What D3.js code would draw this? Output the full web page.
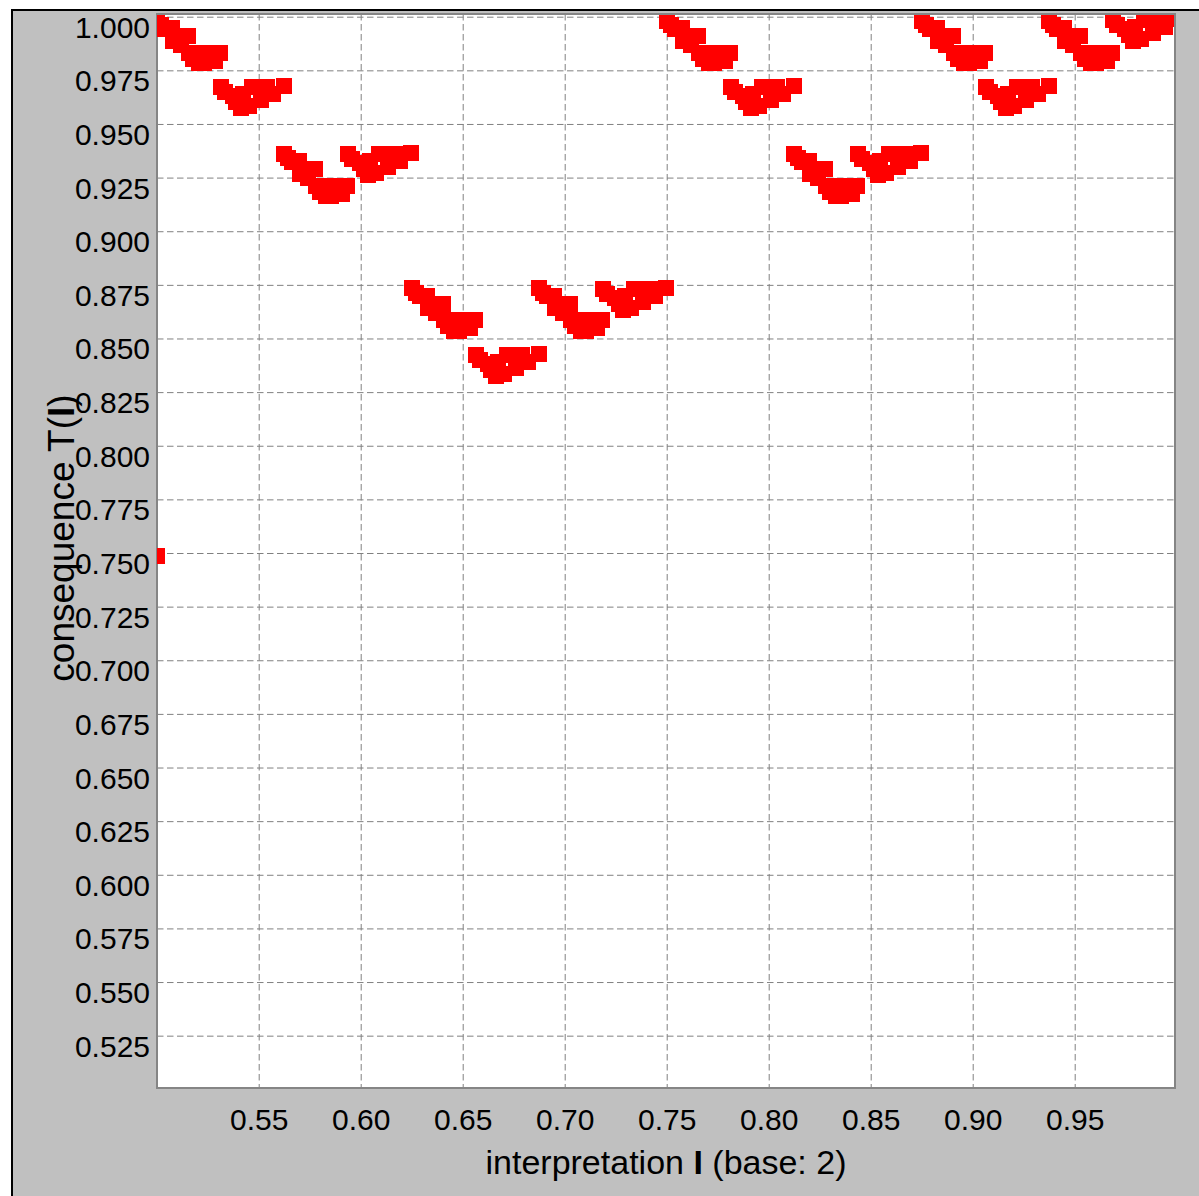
<!DOCTYPE html>
<html>
<head>
<meta charset="utf-8">
<script src="https://cdn.jsdelivr.net/npm/d3@7"></script>
<style>
  html, body { margin: 0; padding: 0; background: #ffffff; }
  svg { display: block; }
  text { font-family: "Liberation Sans", Arial, Helvetica, sans-serif; fill: #000; }
</style>
</head>
<body>
<div id="chart"></div>
<script>
// ---- tick values ----
const xTicks = [0.55, 0.60, 0.65, 0.70, 0.75, 0.80, 0.85, 0.90, 0.95];
const yTicks = [0.525, 0.550, 0.575, 0.600, 0.625, 0.650, 0.675, 0.700, 0.725, 0.750,
                0.775, 0.800, 0.825, 0.850, 0.875, 0.900, 0.925, 0.950, 0.975, 1.000];

// ---- data points [I, T(I)], grouped per cluster ----
const isolated = [[0.5000, 0.7488]];

const clusterD1 = [[.5000,.9980],[.5020,.9961],[.5039,.9943],[.5074,.9947],[.5078,.9887],[.5152,.9910],[.5118,.9868],[.5157,.9831],
                   [.5176,.9803],[.5206,.9784],[.5230,.9784],[.5255,.9808],[.5270,.9831],[.5309,.9831],[.5230,.9831],[.5284,.9794]];
const clusterV1 = [[.5313,.9672],[.5333,.9649],[.5391,.9602],[.5411,.9574],[.5450,.9583],[.5465,.9672],
                   [.5543,.9672],[.5622,.9677],[.5568,.9639],[.5509,.9611],[.5372,.9630],[.5421,.9639]];
const clusterD2 = [[.5625,.9360],[.5645,.9341],[.5664,.9323],[.5699,.9327],[.5703,.9267],[.5777,.9290],[.5743,.9248],[.5782,.9211],
                   [.5801,.9183],[.5831,.9164],[.5855,.9164],[.5880,.9188],[.5895,.9211],[.5934,.9211],[.5855,.9211],[.5909,.9174]];
const clusterV2 = [[.5938,.9360],[.5958,.9337],[.6016,.9290],[.6036,.9262],[.6075,.9271],[.6090,.9360],
                   [.6168,.9360],[.6247,.9365],[.6193,.9327],[.6134,.9299],[.5997,.9318],[.6046,.9327]];
const clusterD3 = [[.6250,.8733],[.6270,.8714],[.6289,.8696],[.6324,.8700],[.6328,.8640],[.6402,.8663],[.6368,.8621],[.6407,.8584],
                   [.6426,.8556],[.6456,.8537],[.6480,.8537],[.6505,.8561],[.6520,.8584],[.6559,.8584],[.6480,.8584],[.6534,.8547]];
const clusterV3 = [[.6563,.8423],[.6583,.8400],[.6641,.8353],[.6661,.8325],[.6700,.8334],[.6715,.8423],
                   [.6793,.8423],[.6872,.8428],[.6818,.8390],[.6759,.8362],[.6622,.8381],[.6671,.8390]];
const clusterD4 = [[.6875,.8733],[.6895,.8714],[.6914,.8696],[.6949,.8700],[.6953,.8640],[.7027,.8663],[.6993,.8621],[.7032,.8584],
                   [.7051,.8556],[.7081,.8537],[.7105,.8537],[.7130,.8561],[.7145,.8584],[.7184,.8584],[.7105,.8584],[.7159,.8547]];
const clusterV4 = [[.7188,.8731],[.7208,.8708],[.7266,.8661],[.7286,.8633],[.7325,.8642],[.7340,.8731],
                   [.7418,.8731],[.7497,.8736],[.7443,.8698],[.7384,.8670],[.7247,.8689],[.7296,.8698]];
const clusterD5 = [[.7500,.9980],[.7520,.9961],[.7539,.9943],[.7574,.9947],[.7578,.9887],[.7652,.9910],[.7618,.9868],[.7657,.9831],
                   [.7676,.9803],[.7706,.9784],[.7730,.9784],[.7755,.9808],[.7770,.9831],[.7809,.9831],[.7730,.9831],[.7784,.9794]];
const clusterV5 = [[.7813,.9672],[.7833,.9649],[.7891,.9602],[.7911,.9574],[.7950,.9583],[.7965,.9672],
                   [.8043,.9672],[.8122,.9677],[.8068,.9639],[.8009,.9611],[.7872,.9630],[.7921,.9639]];
const clusterD6 = [[.8125,.9360],[.8145,.9341],[.8164,.9323],[.8199,.9327],[.8203,.9267],[.8277,.9290],[.8243,.9248],[.8282,.9211],
                   [.8301,.9183],[.8331,.9164],[.8355,.9164],[.8380,.9188],[.8395,.9211],[.8434,.9211],[.8355,.9211],[.8409,.9174]];
const clusterV6 = [[.8438,.9360],[.8458,.9337],[.8516,.9290],[.8536,.9262],[.8575,.9271],[.8590,.9360],
                   [.8668,.9360],[.8747,.9365],[.8693,.9327],[.8634,.9299],[.8497,.9318],[.8546,.9327]];
const clusterD7 = [[.8750,.9980],[.8770,.9961],[.8789,.9943],[.8824,.9947],[.8828,.9887],[.8902,.9910],[.8868,.9868],[.8907,.9831],
                   [.8926,.9803],[.8956,.9784],[.8980,.9784],[.9005,.9808],[.9020,.9831],[.9059,.9831],[.8980,.9831],[.9034,.9794]];
const clusterV7 = [[.9063,.9672],[.9083,.9649],[.9141,.9602],[.9161,.9574],[.9200,.9583],[.9215,.9672],
                   [.9293,.9672],[.9372,.9677],[.9318,.9639],[.9259,.9611],[.9122,.9630],[.9171,.9639]];
const clusterD8 = [[.9375,.9980],[.9395,.9961],[.9414,.9943],[.9449,.9947],[.9453,.9887],[.9527,.9910],[.9493,.9868],[.9532,.9831],
                   [.9551,.9803],[.9581,.9784],[.9605,.9784],[.9630,.9808],[.9645,.9831],[.9684,.9831],[.9605,.9831],[.9659,.9794]];
const clusterV8 = [[.9688,.9985],[.9708,.9962],[.9766,.9915],[.9786,.9887],[.9825,.9896],[.9840,.9985],
                   [.9918,.9985],[.9997,.9990],[.9943,.9952],[.9884,.9924],[.9747,.9943],[.9796,.9952]];

const points = [].concat(isolated,
  clusterD1, clusterV1, clusterD2, clusterV2, clusterD3, clusterV3, clusterD4, clusterV4,
  clusterD5, clusterV5, clusterD6, clusterV6, clusterD7, clusterV7, clusterD8, clusterV8);

// ---- layout ----
const W = 1199, H = 1196;
const plot = { left: 157, top: 14, right: 1175, bottom: 1088 };
const markerSize = 16;

const svg = d3.select("#chart").append("svg")
  .attr("width", W).attr("height", H);

svg.append("rect").attr("width", W).attr("height", H).attr("fill", "#ffffff");
svg.append("rect").attr("x", 12).attr("y", 10).attr("width", W - 12).attr("height", H - 10).attr("fill", "#c0c0c0");
svg.append("rect").attr("x", 11).attr("y", 9).attr("width", W - 11).attr("height", 2).attr("fill", "#000");
svg.append("rect").attr("x", 11).attr("y", 9).attr("width", 2).attr("height", H - 9).attr("fill", "#000");

const x = d3.scaleLinear().domain([0.5, 1.0]).range([156.7, 1176.7]);
const y = d3.scaleLinear().domain([0.5, 1.0]).range([1089.3, 16.7]);

// plot background
svg.append("rect")
  .attr("x", plot.left).attr("y", plot.top)
  .attr("width", plot.right - plot.left).attr("height", plot.bottom - plot.top)
  .attr("fill", "#ffffff");

// grid
const gridX = svg.append("g").attr("transform", `translate(0,${plot.top})`)
  .call(d3.axisBottom(x).tickValues(xTicks).tickSize(plot.bottom - plot.top).tickFormat(""));
const gridY = svg.append("g").attr("transform", `translate(${plot.left},0)`)
  .call(d3.axisRight(y).tickValues(yTicks).tickSize(plot.right - plot.left).tickFormat(""));
[gridX, gridY].forEach(g => {
  g.select(".domain").remove();
  g.selectAll(".tick line")
    .attr("stroke", "#808080").attr("stroke-width", 1).attr("stroke-dasharray", "6.5,3.5");
});

// border
svg.append("rect")
  .attr("x", plot.left).attr("y", plot.top)
  .attr("width", plot.right - plot.left).attr("height", plot.bottom - plot.top)
  .attr("fill", "none").attr("stroke", "#858585").attr("stroke-width", 2);

// points
svg.append("clipPath").attr("id", "clip").append("rect")
  .attr("x", plot.left).attr("y", plot.top + 1)
  .attr("width", plot.right - 1 - plot.left).attr("height", plot.bottom - plot.top - 1);

svg.append("g").attr("clip-path", "url(#clip)")
  .selectAll("rect").data(points).join("rect")
  .attr("x", d => x(d[0]) - markerSize / 2)
  .attr("y", d => y(d[1]) - markerSize / 2)
  .attr("width", markerSize).attr("height", markerSize)
  .attr("fill", "#ff0000")
  .attr("shape-rendering", "crispEdges");

// axes labels
const xAxis = svg.append("g").attr("transform", `translate(0,${plot.bottom})`)
  .call(d3.axisBottom(x).tickValues(xTicks).tickSize(0).tickPadding(20.7).tickFormat(d3.format(".2f")));
xAxis.select(".domain").remove();
xAxis.selectAll("text").style("font-size", "30px").attr("fill", "#000")
  .style("font-family", '"Liberation Sans", Arial, sans-serif');

const yAxis = svg.append("g").attr("transform", `translate(${plot.left},0)`)
  .call(d3.axisLeft(y).tickValues(yTicks).tickSize(0).tickPadding(7).tickFormat(d3.format(".3f")));
yAxis.select(".domain").remove();
yAxis.selectAll("text").style("font-size", "30px").attr("fill", "#000").attr("dy", "20.5")
  .style("font-family", '"Liberation Sans", Arial, sans-serif');

// axis titles
const xt = svg.append("text")
  .attr("x", (plot.left + plot.right) / 2).attr("y", 1174)
  .attr("text-anchor", "middle").style("font-size", "34px");
xt.append("tspan").text("interpretation ");
xt.append("tspan").attr("font-weight", "bold").text("I");
xt.append("tspan").text(" (base: 2)");

const yt = svg.append("text")
  .attr("transform", "translate(74,538) rotate(-90)")
  .attr("text-anchor", "middle").style("font-size", "37px");
yt.append("tspan").text("consequence T(");
yt.append("tspan").attr("font-weight", "bold").text("I");
yt.append("tspan").text(")");
</script>
</body>
</html>
